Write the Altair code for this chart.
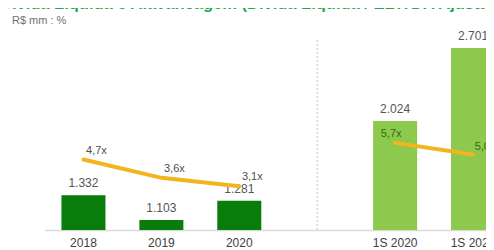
import altair as alt
import pandas as pd

# ---- data ----
domain_cats = ["2018", "2019", "2020", " ", "1S 2020", "1S 2021"]
periods = ["2018", "2019", "2020", "1S 2020", "1S 2021"]
net_debt = [1332, 1103, 1281, 2024, 2701]          # R$ mm
leverage = [4.7, 3.6, 3.1, 5.7, 5.0]               # Dívida Líquida / EBITDA (x)
groups = ["Anual", "Anual", "Anual", "Semestral", "Semestral"]

title_text = "Dívida Líquida e Alavancagem (Dívida Líquida / EBITDA Ajustado)"
unit_text = "R$ mm : %"

df = pd.DataFrame({
    "periodo": periods,
    "divida": net_debt,
    "alav": leverage,
    "grupo": groups,
})
df["divida_lbl"] = [f"{v:,}".replace(",", ".") for v in net_debt]
df["alav_lbl"] = [f"{v:.1f}".replace(".", ",") + "x" for v in leverage]

bar_floor = 1010

x_scale = alt.Scale(domain=domain_cats, range=[36.5, 504],
                    paddingInner=0.435, paddingOuter=0.2175)
x_enc = alt.X("periodo:N", scale=x_scale, sort=domain_cats,
              axis=alt.Axis(title=None, labelAngle=0, ticks=False, domain=True,
                            domainColor="#D9D9D9", domainWidth=1.5,
                            labelPadding=7, labelFontSize=12, labelColor="#404040",
                            labelFont="Liberation Sans", grid=False))

y_bar = alt.Scale(domain=[bar_floor, 3073], zero=False, nice=False)
y_line = alt.Scale(domain=[0.468, 13.80], zero=False, nice=False)

base = alt.Chart(df)

bars = base.mark_bar().encode(
    x=x_enc,
    y=alt.Y("divida:Q", scale=y_bar, axis=None),
    y2=alt.datum(bar_floor),
    color=alt.Color("grupo:N", scale=alt.Scale(domain=["Anual", "Semestral"],
                                               range=["#087D0C", "#8CC94C"]), legend=None),
)

bar_text = base.mark_text(baseline="bottom", dy=-5, fontSize=12,
                          font="Liberation Sans", color="#555555").encode(
    x=x_enc,
    y=alt.Y("divida:Q", scale=y_bar, axis=None),
    text="divida_lbl:N",
)

sep = alt.Chart(pd.DataFrame({"periodo": [" "]})).mark_rule(
    color="#CFCFCF", strokeDash=[2, 2], strokeWidth=1.2).encode(
    x=x_enc,
    y=alt.value(32), y2=alt.value(222),
)

line = base.mark_line(color="#F2B51E", strokeWidth=4, strokeCap="round").encode(
    x=x_enc,
    y=alt.Y("alav:Q", scale=y_line, axis=None),
    detail="grupo:N",
)

lbl_left = base.transform_filter(alt.datum.grupo == "Anual").mark_text(
    dx=13, dy=-9, fontSize=11, font="Liberation Sans", color="#505050").encode(
    x=x_enc,
    y=alt.Y("alav:Q", scale=y_line, axis=None),
    text="alav_lbl:N",
)
lbl_r1 = base.transform_filter(alt.datum.periodo == "1S 2020").mark_text(
    dx=-4, dy=-9, fontSize=11, font="Liberation Sans", color="#2F6B1A").encode(
    x=x_enc,
    y=alt.Y("alav:Q", scale=y_line, axis=None),
    text="alav_lbl:N",
)
lbl_r2 = base.transform_filter(alt.datum.periodo == "1S 2021").mark_text(
    dx=12, dy=-8, fontSize=11, font="Liberation Sans", color="#2F6B1A").encode(
    x=x_enc,
    y=alt.Y("alav:Q", scale=y_line, axis=None),
    text="alav_lbl:N",
)

title = alt.Chart(pd.DataFrame({"t": [title_text]})).mark_text(
    align="left", baseline="alphabetic", fontSize=16.5, fontWeight="bold",
    font="Liberation Sans", color="#1FA84E").encode(
    x=alt.value(-8), y=alt.value(1), text="t:N")

unit = alt.Chart(pd.DataFrame({"t": [unit_text]})).mark_text(
    align="left", baseline="top", fontSize=11, font="Liberation Sans",
    color="#707070").encode(
    x=alt.value(4), y=alt.value(7), text="t:N")

chart = alt.layer(
    bars, sep, bar_text, line, lbl_left, lbl_r1, lbl_r2, title, unit
).resolve_scale(y="independent").properties(
    width=478, height=222,
    autosize=alt.AutoSizeParams(type="none"),
    padding={"left": 0, "top": 0, "right": 0, "bottom": 20},
).configure_view(stroke=None)

chart.save("out.html", embed_options={"renderer": "svg", "actions": False})
